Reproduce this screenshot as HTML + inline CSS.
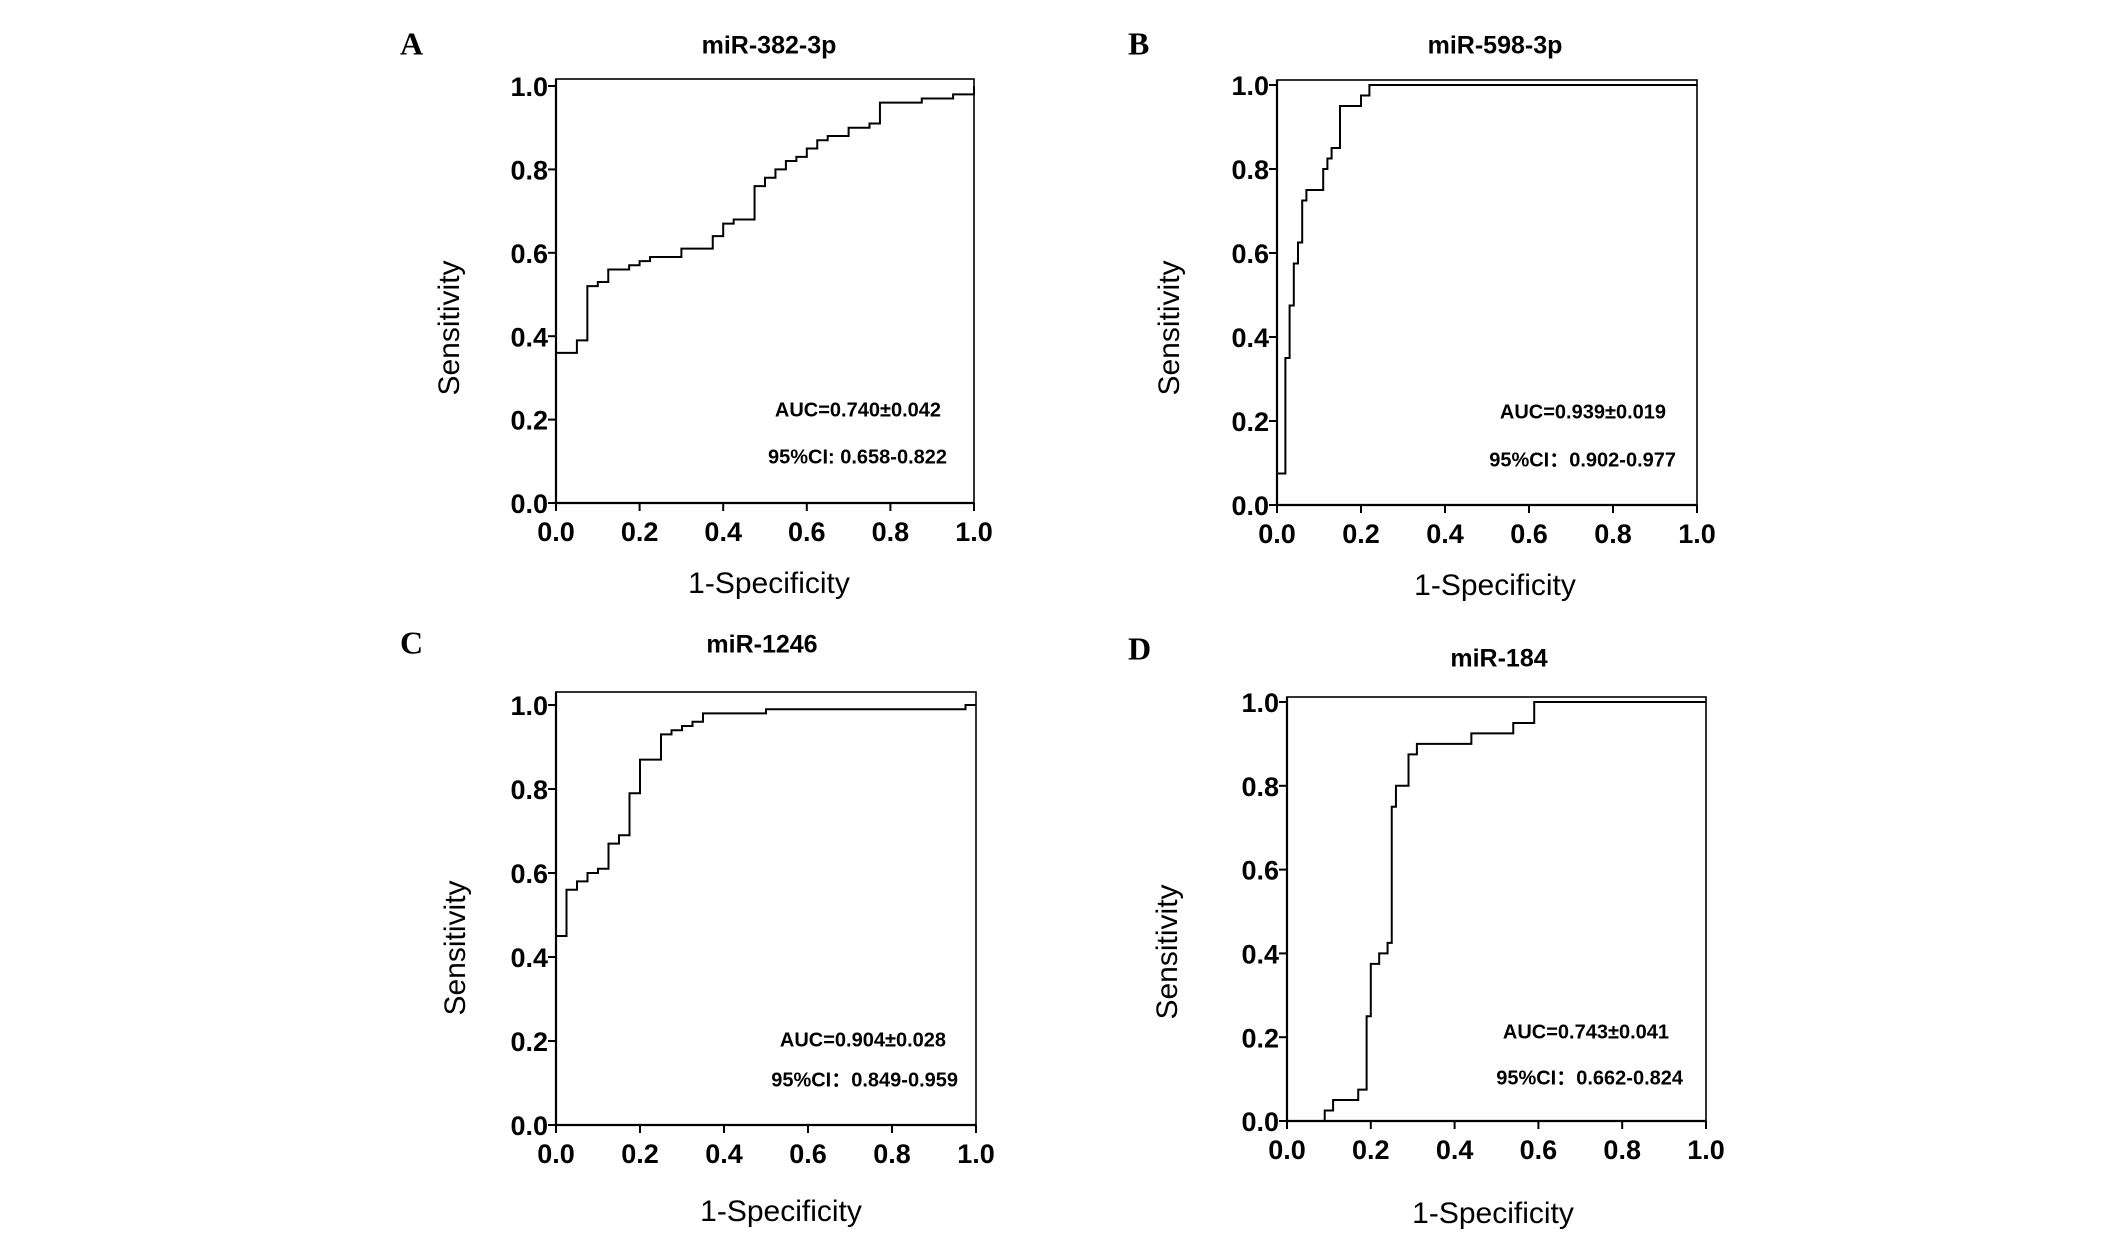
<!DOCTYPE html>
<html><head><meta charset="utf-8"><style>
html,body{margin:0;padding:0;background:#fff;width:2126px;height:1240px;overflow:hidden}
svg{display:block}
</style></head><body>
<svg id="fig" width="2126" height="1240" xmlns="http://www.w3.org/2000/svg"></svg>
<script>
// Panel A: miR-382-3p
const fprA=[0.05,0.075,0.10,0.125,0.175,0.20,0.225,0.30,0.375,0.40,0.425,0.475,0.50,0.525,0.55,0.575,0.60,0.625,0.65,0.70,0.75,0.775,0.875,0.95,1.0];
const tprA=[0.39,0.52,0.53,0.56,0.57,0.58,0.59,0.61,0.64,0.67,0.68,0.76,0.78,0.80,0.82,0.83,0.85,0.87,0.88,0.90,0.91,0.96,0.97,0.98,1.0];
const startA=0.36;
// Panel B: miR-598-3p
const fprB=[0.02,0.03,0.04,0.05,0.06,0.07,0.11,0.12,0.13,0.15,0.20,0.22,1.0];
const tprB=[0.35,0.475,0.575,0.625,0.725,0.75,0.80,0.825,0.85,0.95,0.975,1.0,1.0];
const startB=0.075;
// Panel C: miR-1246
const fprC=[0.025,0.05,0.075,0.10,0.125,0.15,0.175,0.20,0.25,0.275,0.30,0.325,0.35,0.50,0.975,1.0];
const tprC=[0.56,0.58,0.60,0.61,0.67,0.69,0.79,0.87,0.93,0.94,0.95,0.96,0.98,0.99,1.0,1.0];
const startC=0.45;
// Panel D: miR-184
const fprD=[0.09,0.11,0.17,0.19,0.20,0.22,0.24,0.25,0.26,0.29,0.31,0.44,0.54,0.59,1.0];
const tprD=[0.025,0.05,0.075,0.25,0.375,0.40,0.425,0.75,0.80,0.875,0.90,0.925,0.95,1.0,1.0];
const startD=0.0;
const tickLabels=["0.0","0.2","0.4","0.6","0.8","1.0"];
const tickVals=[0,0.2,0.4,0.6,0.8,1.0];

const NS="http://www.w3.org/2000/svg";
const svg=document.getElementById('fig');
function mk(tag,attrs,parent,text){const e=document.createElementNS(NS,tag);for(const k in attrs)e.setAttribute(k,attrs[k]);if(text!==undefined)e.textContent=text;(parent||svg).appendChild(e);return e;}

function panel(p){
  const g=mk('g',{});
  
  
  const X=v=>p.x0+(p.x1-p.x0)*v, Y=v=>p.y0-(p.y0-p.y1)*v;
  const lab=mk('text',{x:p.lx,y:p.ly,'font-family':'Liberation Serif, serif','font-weight':'bold','font-size':32,'dominant-baseline':'middle'},g,p.id);
  
  
  const t=mk('text',{x:p.tx,y:p.ty,'font-family':'Liberation Sans, sans-serif','font-weight':'bold','font-size':25,'text-anchor':'middle','dominant-baseline':'middle'},g,p.title);
  
  
  const fr=mk('rect',{x:p.x0,y:p.top,width:p.x1-p.x0,height:p.y0-p.top,fill:'none',stroke:'#000','stroke-width':1.6},g);
  
  
  mk('line',{x1:p.x0,y1:p.top,x2:p.x0,y2:p.y0,stroke:'#000','stroke-width':2.2},g);
  mk('line',{x1:p.x0,y1:p.y0,x2:p.x1,y2:p.y0,stroke:'#000','stroke-width':2.2},g);
  tickVals.forEach((v,i)=>{
    mk('line',{x1:p.x0-8,y1:Y(v),x2:p.x0,y2:Y(v),stroke:'#000','stroke-width':2},g);
    const yl=mk('text',{x:p.x0-8,y:Y(v)+3,'font-family':'Liberation Sans, sans-serif','font-weight':'bold','font-size':27,'text-anchor':'end','dominant-baseline':'middle'},g,tickLabels[i]);
    
    
    mk('line',{x1:X(v),y1:p.y0,x2:X(v),y2:p.y0+8,stroke:'#000','stroke-width':2},g);
    const xl=mk('text',{x:X(v),y:p.y0+31,'font-family':'Liberation Sans, sans-serif','font-weight':'bold','font-size':27,'text-anchor':'middle','dominant-baseline':'middle'},g,tickLabels[i]);
    
    
  });
  const xt=mk('text',{x:p.xtx,y:p.xty,'font-family':'Liberation Sans, sans-serif','font-size':30,'text-anchor':'middle','dominant-baseline':'middle'},g,'1-Specificity');
  
  
  const yt=mk('text',{x:0,y:0,transform:`translate(${p.ytx},${p.yty}) rotate(-90)`,'font-family':'Liberation Sans, sans-serif','font-size':30,'text-anchor':'middle','dominant-baseline':'middle'},g,'Sensitivity');
  
  
  let d=`M${X(0)},${Y(p.start)}`;
  p.fpr.forEach((f,i)=>{d+=` H${X(f)} V${Y(p.tpr[i])}`;});
  const c=mk('path',{d:d,fill:'none',stroke:'#000','stroke-width':2},g);
  
  
  const a=mk('text',{x:p.ax,y:p.ay,'font-family':'Liberation Sans, sans-serif','font-weight':'bold','font-size':20,'text-anchor':'end','dominant-baseline':'middle'},g,p.auc);
  
  
  const ci=mk('text',{x:p.cx,y:p.cy,'font-family':'Liberation Sans, Noto Sans CJK SC, sans-serif','font-weight':'bold','font-size':20,'text-anchor':'end','dominant-baseline':'middle'},g,p.ci);
  
  
}
panel({id:'A',title:'miR-382-3p',x0:556,x1:974,y0:503,y1:86,top:79,lx:400,ly:47,tx:769,ty:47,xtx:769,xty:585,ytx:451,yty:328,fpr:fprA,tpr:tprA,start:startA,auc:'AUC=0.740±0.042',ax:941,ay:411,ci:'95%CI:  0.658-0.822',cx:947,cy:458});
panel({id:'B',title:'miR-598-3p',x0:1277,x1:1697,y0:505,y1:85,top:80,lx:1128,ly:47,tx:1495,ty:47,xtx:1495,xty:587,ytx:1171,yty:328,fpr:fprB,tpr:tprB,start:startB,auc:'AUC=0.939±0.019',ax:1666,ay:413,ci:'95%CI：0.902-0.977',cx:1676,cy:461});
panel({id:'C',title:'miR-1246',x0:556,x1:976,y0:1125,y1:705,top:692,lx:400,ly:646,tx:762,ty:646,xtx:781,xty:1213,ytx:457,yty:948,fpr:fprC,tpr:tprC,start:startC,auc:'AUC=0.904±0.028',ax:946,ay:1041,ci:'95%CI：0.849-0.959',cx:958,cy:1081});
panel({id:'D',title:'miR-184',x0:1287,x1:1706,y0:1121,y1:702,top:697,lx:1128,ly:652,tx:1499,ty:660,xtx:1493,xty:1215,ytx:1169,yty:952,fpr:fprD,tpr:tprD,start:startD,auc:'AUC=0.743±0.041',ax:1669,ay:1033,ci:'95%CI：0.662-0.824',cx:1683,cy:1079});
</script>
</body></html>
